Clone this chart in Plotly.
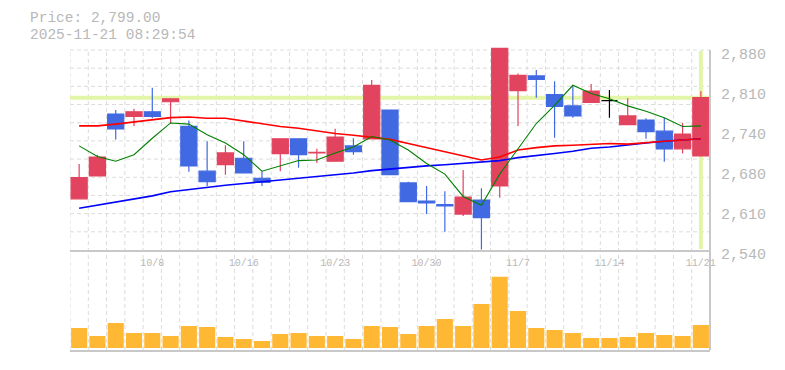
import plotly.graph_objects as go

# ---------------- data ----------------
dates = ["10/2", "10/3", "10/6", "10/7", "10/8", "10/9", "10/10", "10/14", "10/15", "10/16",
         "10/17", "10/20", "10/21", "10/22", "10/23", "10/24", "10/27", "10/28", "10/29", "10/30",
         "10/31", "11/4", "11/5", "11/6", "11/7", "11/10", "11/11", "11/12", "11/13", "11/14",
         "11/17", "11/18", "11/19", "11/20", "11/21"]

open_ = [2627, 2666, 2771, 2767, 2775, 2792, 2750, 2674, 2685, 2696,
         2662, 2704, 2729, 2705, 2691, 2717, 2729, 2778, 2654, 2623,
         2617, 2601, 2625, 2649, 2811, 2836, 2804, 2785, 2791, 2794,
         2753, 2761, 2742, 2712, 2700]
high = [2686, 2702, 2778, 2780, 2816, 2797, 2760, 2725, 2718, 2725,
        2674, 2729, 2730, 2712, 2746, 2730, 2829, 2778, 2656, 2649,
        2640, 2676, 2645, 2883, 2840, 2846, 2827, 2820, 2822, 2812,
        2798, 2764, 2765, 2756, 2810]
low = [2627, 2666, 2728, 2751, 2764, 2755, 2673, 2649, 2668, 2670,
       2649, 2674, 2680, 2688, 2690, 2702, 2729, 2668, 2622, 2601,
       2571, 2598, 2541, 2629, 2751, 2799, 2731, 2765, 2791, 2765,
       2753, 2729, 2690, 2704, 2700]
close = [2663, 2698, 2746, 2775, 2767, 2797, 2683, 2656, 2705, 2671,
         2655, 2729, 2702, 2706, 2732, 2707, 2820, 2668, 2622, 2620,
         2615, 2630, 2595, 2883, 2837, 2830, 2784, 2768, 2810, 2794,
         2768, 2741, 2712, 2737, 2799]

ma5 = [2717, 2699, 2691, 2702, 2730, 2756, 2754, 2736, 2722, 2702,
       2674, 2683, 2692, 2693, 2705, 2715, 2733, 2727, 2710, 2687,
       2669, 2631, 2616, 2669, 2712, 2755, 2786, 2820, 2806, 2797,
       2785, 2776, 2765, 2750, 2751]
ma25 = [2751, 2751, 2754, 2758, 2762, 2765, 2766, 2764, 2764, 2759,
        2754, 2750, 2747, 2742, 2738, 2735, 2731, 2728, 2721, 2714,
        2706, 2699, 2693, 2698, 2710, 2714, 2717, 2718, 2720, 2721,
        2720, 2723, 2725, 2727, 2729]
ma75 = [2611, 2616, 2621, 2627, 2632, 2639, 2643, 2646, 2650, 2653,
        2656, 2658, 2661, 2664, 2668, 2671, 2675, 2678, 2681, 2683,
        2685, 2687, 2689, 2692, 2697, 2700, 2704, 2708, 2713, 2715,
        2719, 2722, 2725, 2727, 2729]

volume = [200, 120, 250, 150, 150, 120, 220, 210, 110, 90,
          70, 140, 150, 120, 120, 90, 220, 210, 140, 220,
          290, 220, 440, 713, 370, 200, 180, 150, 100, 100,
          110, 150, 130, 120, 230]

x_tick_dates = ["10/8", "10/16", "10/23", "10/30", "11/7", "11/14", "11/21"]
y_tick_values = [2540, 2608, 2676, 2744, 2812, 2880]
y_tick_labels = ["2,540", "2,610", "2,680", "2,740", "2,810", "2,880"]

header_price = "Price: 2,799.00"
header_time = "2025-11-21 08:29:54"
last_price = 2799

# ---------------- styling / geometry ----------------
W, H = 785, 370
ML, MR, MT, MB = 70, 75, 47, 20
PLOT_H = H - MT - MB  # 303
price_bottom_px = 250
grid_top_px = 50
vol_top_px = 270

RED = "#e2445f"
BLUE = "#4169e1"
ORANGE = "#ffb833"
GRID = "#dcdcdc"
AXIS = "#c8c8c8"
TEXT = "#b8b8b8"
HILITE = "#e3f5a6"
FONT = "Liberation Mono, DejaVu Sans Mono, monospace"

def py(px):  # pixel y -> paper y
    return (H - MB - px) / PLOT_H

def pxx(px):  # pixel x -> paper x
    return (px - ML) / (W - ML - MR)

y_min = y_tick_values[0]
y_top_grid = y_tick_values[-1]
price_per_px = (y_top_grid - y_min) / (price_bottom_px - grid_top_px)
y_max = y_min + price_per_px * (price_bottom_px - MT)

n = len(dates)
xs = list(range(n))
x_range = [-0.5, n - 0.5]

fig = go.Figure()

# moving averages (below candles)
fig.add_trace(go.Scatter(x=xs, y=ma75, mode="lines", line=dict(color="#0000ff", width=1.6),
                         xaxis="x", yaxis="y", hoverinfo="skip"))
fig.add_trace(go.Scatter(x=xs, y=ma25, mode="lines", line=dict(color="#ff0000", width=1.6),
                         xaxis="x", yaxis="y", hoverinfo="skip"))
fig.add_trace(go.Scatter(x=xs, y=ma5, mode="lines", line=dict(color="#008000", width=1.1),
                         xaxis="x", yaxis="y", hoverinfo="skip"))

# candles split by direction
def subset(cond):
    sel = [i for i in xs if cond(i)]
    return (sel, [open_[i] for i in sel], [high[i] for i in sel],
            [low[i] for i in sel], [close[i] for i in sel])

for cond, col in [(lambda i: close[i] > open_[i], RED),
                  (lambda i: close[i] < open_[i], BLUE),
                  (lambda i: close[i] == open_[i], "#000000")]:
    sx, so, sh, sl, sc = subset(cond)
    fig.add_trace(go.Candlestick(
        x=sx, open=so, high=sh, low=sl, close=sc,
        increasing=dict(line=dict(color=col, width=1.2), fillcolor=col),
        decreasing=dict(line=dict(color=col, width=1.2), fillcolor=col),
        whiskerwidth=0, xaxis="x", yaxis="y", hoverinfo="skip"))

# volume
fig.add_trace(go.Bar(x=xs, y=volume, marker=dict(color=ORANGE, line=dict(width=0)),
                     width=0.88, xaxis="x2", yaxis="y2", hoverinfo="skip"))

shapes = []
# vertical dashed grid spanning both panels
for k in range(n):
    shapes.append(dict(type="line", xref="x", yref="paper", x0=k - 0.5, x1=k - 0.5,
                       y0=0, y1=py(grid_top_px), layer="below",
                       line=dict(color=GRID, width=1, dash="4px,3px")))
# horizontal dashed grid in price panel
n_h = 11
for k in range(1, n_h + 1):
    yv = y_min + k * (y_top_grid - y_min) / n_h
    shapes.append(dict(type="line", xref="x", yref="y", x0=x_range[0], x1=x_range[1],
                       y0=yv, y1=yv, layer="below",
                       line=dict(color=GRID, width=1, dash="4px,3px")))
# current price highlight lines
shapes.append(dict(type="line", xref="x", yref="y", x0=x_range[0], x1=x_range[1],
                   y0=last_price, y1=last_price, layer="below",
                   line=dict(color=HILITE, width=4)))
shapes.append(dict(type="line", xref="x", yref="y", x0=n - 1, x1=n - 1,
                   y0=y_min + price_per_px * 1, y1=y_top_grid - price_per_px * 1, layer="below",
                   line=dict(color=HILITE, width=4)))
# right border
shapes.append(dict(type="line", xref="paper", yref="paper", x0=1, x1=1,
                   y0=0, y1=py(grid_top_px), layer="above",
                   line=dict(color=AXIS, width=2)))

annotations = [
    dict(text=header_price, xref="paper", yref="paper", x=pxx(28), y=py(18.5),
         xanchor="left", yanchor="middle", showarrow=False,
         font=dict(family=FONT, size=14.5, color=TEXT)),
    dict(text=header_time, xref="paper", yref="paper", x=pxx(28), y=py(35.2),
         xanchor="left", yanchor="middle", showarrow=False,
         font=dict(family=FONT, size=14.5, color=TEXT)),
]

fig.update_layout(
    width=W, height=H,
    margin=dict(l=ML, r=MR, t=MT, b=MB, pad=0, autoexpand=False),
    paper_bgcolor="white", plot_bgcolor="white",
    showlegend=False,
    boxgap=0.12, boxgroupgap=0, bargap=0.12,
    shapes=shapes, annotations=annotations,
    hovermode=False,
    xaxis=dict(domain=[0, 1], anchor="y", range=x_range, showgrid=False, zeroline=False,
               showline=True, linecolor=AXIS, linewidth=2, automargin=False,
               tickvals=[dates.index(d) for d in x_tick_dates], ticktext=x_tick_dates,
               ticks="", ticklabelstandoff=2,
               tickfont=dict(family=FONT, size=10, color=TEXT),
               rangeslider=dict(visible=False), fixedrange=True),
    yaxis=dict(domain=[py(price_bottom_px), 1], anchor="x", side="right", automargin=False,
               range=[y_min, y_max], showgrid=False, zeroline=False, showline=False,
               tickvals=y_tick_values, ticktext=y_tick_labels, ticks="",
               ticklabelstandoff=10, ticklabelshift=4,
               tickfont=dict(family=FONT, size=15, color=TEXT), fixedrange=True),
    xaxis2=dict(domain=[0, 1], anchor="y2", range=x_range, showgrid=False, zeroline=False,
                showline=True, linecolor=AXIS, linewidth=2, showticklabels=False, ticks="",
                automargin=False, fixedrange=True),
    yaxis2=dict(domain=[0, py(vol_top_px)], anchor="x2", range=[-20, 780], visible=False,
                automargin=False, fixedrange=True),
)

fig.write_html("out.html")
